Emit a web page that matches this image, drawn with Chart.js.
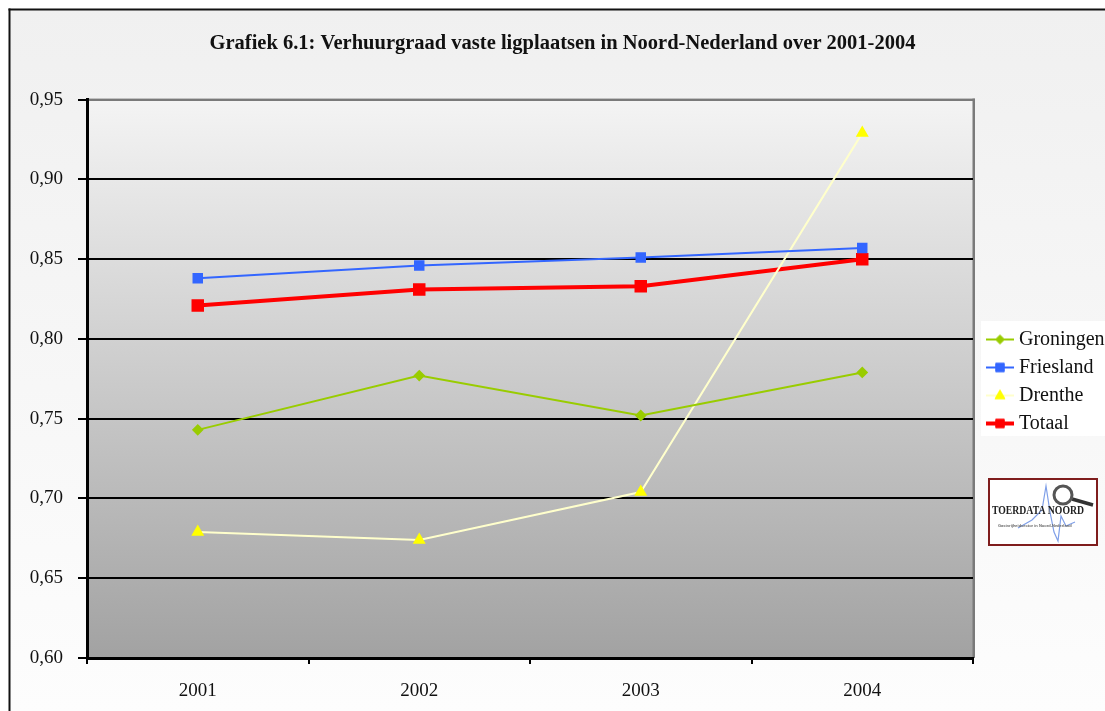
<!DOCTYPE html>
<html><head><meta charset="utf-8">
<style>html,body{margin:0;padding:0;background:#fff;overflow:hidden}canvas{display:block}</style>
<script src="https://cdn.jsdelivr.net/npm/chart.js@4/dist/chart.umd.min.js"></script>
</head><body>
<div style="width:1105px;height:711px;position:relative"><canvas id="c" width="1105" height="711"></canvas></div>
<script>
const years = ['2001','2002','2003','2004'];
const groningen = [0.743,0.777,0.752,0.779];
const friesland = [0.838,0.846,0.851,0.857];
const drenthe = [0.679,0.674,0.704,0.929];
const totaal = [0.821,0.831,0.833,0.850];
const titleText = 'Grafiek 6.1: Verhuurgraad vaste ligplaatsen in Noord-Nederland over 2001-2004';
const FONT = '"Liberation Serif"';
const TEXT = '#111';

function key(ds){
  const c=document.createElement('canvas');c.width=44;c.height=20;
  const x=c.getContext('2d');
  const m=26,y=10;
  x.strokeStyle=ds.borderColor;x.lineWidth=ds.borderWidth;
  x.beginPath();x.moveTo(m-14,y);x.lineTo(m+14,y);x.stroke();
  x.fillStyle=ds.pointBackgroundColor;
  const r=ds.pointRadius;
  x.beginPath();
  if(ds.pointStyle==='rectRot'){x.moveTo(m,y-r);x.lineTo(m+r,y);x.lineTo(m,y+r);x.lineTo(m-r,y);}
  else if(ds.pointStyle==='rect'){const h=r*0.707;x.rect(m-h,y-h,2*h,2*h);}
  else {x.moveTo(m,y-r);x.lineTo(m+r*0.9,y+r*0.6);x.lineTo(m-r*0.9,y+r*0.6);}
  x.closePath();x.fill();
  x.strokeStyle=ds.pointBorderColor;x.lineWidth=1;x.stroke();
  return c;
}

const frame = {
  id:'frame',
  beforeLayout(chart){
    const l=chart.legend;
    if(l && !l._patched){
      const f=l.fit;
      l.fit=function(){f.call(this);this.width=132;};
      l._patched=true;
    }
  },
  afterLayout(chart){
    const l=chart.legend;
    l.top+=26;l.bottom+=26;l.left+=2;
  },
  beforeDraw(chart){
    const {ctx,chartArea:a,width,height}=chart;
    ctx.save();
    let g=ctx.createLinearGradient(0,9,0,height);
    g.addColorStop(0,'#f0f0f0');g.addColorStop(1,'#fdfdfd');
    ctx.fillStyle='#ffffff';ctx.fillRect(0,0,width,height);
    ctx.fillStyle=g;ctx.fillRect(10,10,width-10,height-10);
    ctx.fillStyle='#111';
    ctx.fillRect(8.5,8.5,2,height);
    ctx.fillRect(8.5,8.5,width,2);
    g=ctx.createLinearGradient(0,a.top,0,a.bottom);
    g.addColorStop(0,'#f4f4f4');g.addColorStop(1,'#a2a2a2');
    ctx.fillStyle=g;ctx.fillRect(a.left,a.top,a.right-a.left,a.bottom-a.top);
    ctx.fillStyle='#7a7a7a';
    ctx.fillRect(a.left,a.top-1,a.right-a.left+2,2);
    ctx.fillRect(a.right-0.5,a.top-1,2.5,a.bottom-a.top+1);
    ctx.fillStyle='#fff';ctx.fillRect(981,321,124,115);
    ctx.restore();
  },
  afterDraw(chart){
    const {ctx}=chart;
    const x0=989,y0=479,w=108,h=66;
    ctx.save();
    ctx.fillStyle='#fff';ctx.fillRect(x0,y0,w,h);
    ctx.strokeStyle='#7f1d1d';ctx.lineWidth=2;ctx.strokeRect(x0,y0,w,h);
    ctx.filter='blur(0.6px)';
    ctx.strokeStyle='#7f9fe8';ctx.lineWidth=1.2;
    ctx.beginPath();
    [[1018,528],[1032,520],[1042,510],[1046,486],[1050,512],[1054,532],[1058,541],[1061,516],[1066,526],[1075,522]]
      .forEach((p,i)=>i?ctx.lineTo(p[0],p[1]):ctx.moveTo(p[0],p[1]));
    ctx.stroke();
    ctx.strokeStyle='#333';ctx.lineWidth=3.5;
    ctx.beginPath();ctx.moveTo(1072,499);ctx.lineTo(1093,505);ctx.stroke();
    ctx.lineWidth=3;ctx.strokeStyle='#555';ctx.fillStyle='rgba(255,255,255,.7)';
    ctx.beginPath();ctx.arc(1063,495,9,0,Math.PI*2);ctx.fill();ctx.stroke();
    ctx.fillStyle='#222';ctx.font='bold 12px "Liberation Serif"';ctx.textAlign='left';ctx.textBaseline='middle';
    ctx.fillText('TOERDATA NOORD',992,511,92);
    ctx.fillStyle='#666';ctx.font='bold 4px "Liberation Sans"';
    ctx.fillText('Gastvrijheidsector in Noord-Nederland',998,526,85);
    ctx.restore();
  }
};

new Chart(document.getElementById('c'),{
  type:'line',
  data:{labels:years,datasets:[
    {label:'Groningen',data:groningen,borderColor:'#99cc00',pointBackgroundColor:'#99cc00',pointBorderColor:'#99cc00',borderWidth:2,pointStyle:'rectRot',pointRadius:4.5},
    {label:'Friesland',data:friesland,borderColor:'#3366ff',pointBackgroundColor:'#3366ff',pointBorderColor:'#3366ff',borderWidth:2,pointStyle:'rect',pointRadius:6},
    {label:'Drenthe',data:drenthe,borderColor:'#ffffcc',pointBackgroundColor:'#ffff00',pointBorderColor:'#ffff00',borderWidth:2,pointStyle:'triangle',pointRadius:5.5},
    {label:'Totaal',data:totaal,borderColor:'#ff0000',pointBackgroundColor:'#ff0000',pointBorderColor:'#ff0000',borderWidth:4,pointStyle:'rect',pointRadius:6}
  ]},
  plugins:[frame],
  options:{
    responsive:false,animation:false,
    layout:{padding:{left:20,top:0,right:0,bottom:0}},
    elements:{line:{tension:0}},
    plugins:{
      title:{display:true,text:titleText,color:'#111',font:{family:FONT,size:20.5,weight:'bold'},padding:{top:31,bottom:44}},
      legend:{position:'right',align:'center',
        labels:{font:{family:FONT,size:20},color:TEXT,usePointStyle:true,pointStyleWidth:26,boxHeight:20,padding:8,
          generateLabels(chart){
            return chart.data.datasets.map((ds,i)=>({text:ds.label,pointStyle:key(ds),datasetIndex:i,fontColor:TEXT,lineWidth:0,strokeStyle:'transparent',fillStyle:'transparent'}));
          }}},
      tooltip:{enabled:false}
    },
    scales:{
      x:{offset:true,
        grid:{offset:true,drawOnChartArea:false,color:'#000',lineWidth:2,tickLength:6,tickColor:'#000'},
        border:{color:'#000',width:3},
        ticks:{font:{family:FONT,size:19},color:TEXT,padding:16,maxRotation:0},
        afterFit(s){s.height=53;}
      },
      y:{min:0.6,max:0.95,
        grid:{color:c=>c.index===7?'#7a7a7a':'#000',lineWidth:2,tickLength:9,tickColor:'#000'},
        border:{color:'#000',width:3},
        ticks:{stepSize:0.05,font:{family:FONT,size:19},color:TEXT,padding:15,callback:v=>v.toFixed(2).replace('.',',')},
        afterFit(s){s.width=67;}
      }
    }
  }
});
</script>
</body></html>
